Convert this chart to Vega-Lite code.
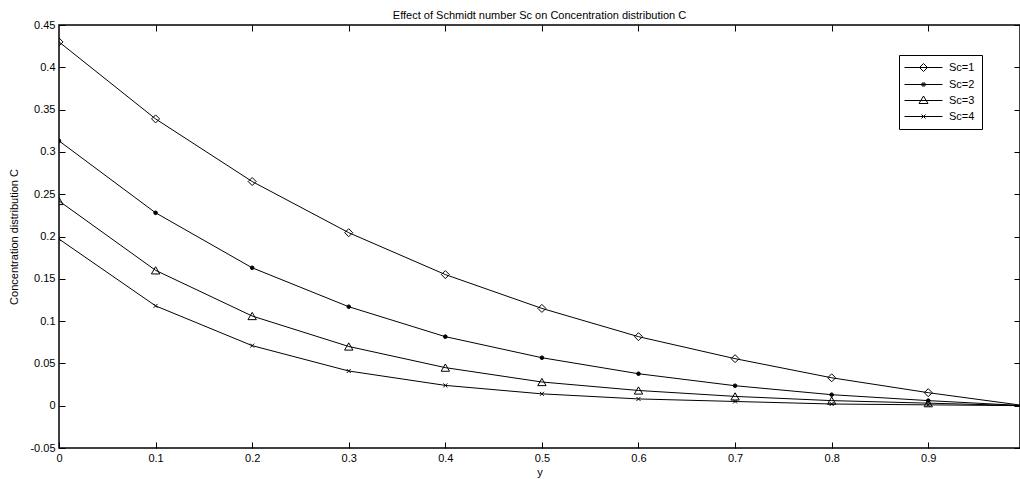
{
  "$schema": "https://vega.github.io/schema/vega-lite/v6.json",
  "width": 961,
  "height": 423,
  "autosize": {"type": "none"},
  "padding": {"left": 59, "top": 25, "right": 0, "bottom": 31},
  "background": "white",
  "config": {
    "font": "Liberation Sans",
    "view": {"stroke": "black", "strokeWidth": 1.5},
    "axis": {
      "grid": false, "domain": false, "tickColor": "black", "tickSize": -6, "tickWidth": 1, "labelFlush": false,
      "labelColor": "black", "labelFontSize": 11, "labelFont": "Liberation Sans", "labelPadding": 10,
      "titleFontSize": 11, "titleFontWeight": "normal", "titleColor": "black", "titleFont": "Liberation Sans"
    }
  },
  "title": {"text": "Effect of Schmidt number Sc on Concentration distribution C", "fontSize": 11, "fontWeight": "normal", "font": "Liberation Sans", "color": "black", "offset": -2},
  "data": {"values": [
    {"series": "Sc=1", "y": 0, "C": 0.43}, {"series": "Sc=1", "y": 0.1, "C": 0.339}, {"series": "Sc=1", "y": 0.2, "C": 0.265}, {"series": "Sc=1", "y": 0.3, "C": 0.2045}, {"series": "Sc=1", "y": 0.4, "C": 0.155}, {"series": "Sc=1", "y": 0.5, "C": 0.115}, {"series": "Sc=1", "y": 0.6, "C": 0.0816}, {"series": "Sc=1", "y": 0.7, "C": 0.0556}, {"series": "Sc=1", "y": 0.8, "C": 0.033}, {"series": "Sc=1", "y": 0.9, "C": 0.0154}, {"series": "Sc=1", "y": 1, "C": 0},
    {"series": "Sc=2", "y": 0, "C": 0.313}, {"series": "Sc=2", "y": 0.1, "C": 0.228}, {"series": "Sc=2", "y": 0.2, "C": 0.163}, {"series": "Sc=2", "y": 0.3, "C": 0.117}, {"series": "Sc=2", "y": 0.4, "C": 0.0816}, {"series": "Sc=2", "y": 0.5, "C": 0.0567}, {"series": "Sc=2", "y": 0.6, "C": 0.0378}, {"series": "Sc=2", "y": 0.7, "C": 0.0236}, {"series": "Sc=2", "y": 0.8, "C": 0.013}, {"series": "Sc=2", "y": 0.9, "C": 0.006}, {"series": "Sc=2", "y": 1, "C": 0},
    {"series": "Sc=3", "y": 0, "C": 0.242}, {"series": "Sc=3", "y": 0.1, "C": 0.16}, {"series": "Sc=3", "y": 0.2, "C": 0.106}, {"series": "Sc=3", "y": 0.3, "C": 0.07}, {"series": "Sc=3", "y": 0.4, "C": 0.045}, {"series": "Sc=3", "y": 0.5, "C": 0.028}, {"series": "Sc=3", "y": 0.6, "C": 0.018}, {"series": "Sc=3", "y": 0.7, "C": 0.011}, {"series": "Sc=3", "y": 0.8, "C": 0.006}, {"series": "Sc=3", "y": 0.9, "C": 0.003}, {"series": "Sc=3", "y": 1, "C": 0},
    {"series": "Sc=4", "y": 0, "C": 0.197}, {"series": "Sc=4", "y": 0.1, "C": 0.118}, {"series": "Sc=4", "y": 0.2, "C": 0.071}, {"series": "Sc=4", "y": 0.3, "C": 0.041}, {"series": "Sc=4", "y": 0.4, "C": 0.024}, {"series": "Sc=4", "y": 0.5, "C": 0.014}, {"series": "Sc=4", "y": 0.6, "C": 0.008}, {"series": "Sc=4", "y": 0.7, "C": 0.005}, {"series": "Sc=4", "y": 0.8, "C": 0.002}, {"series": "Sc=4", "y": 0.9, "C": 0.001}, {"series": "Sc=4", "y": 1, "C": 0}
  ]},
  "layer": [
    {
      "mark": {"type": "line", "color": "black", "strokeWidth": 1, "clip": true},
      "encoding": {
        "x": {"field": "y", "type": "quantitative", "scale": {"domain": [0, 0.995], "nice": false, "zero": false},
          "axis": {"orient": "bottom", "title": "y", "values": [0, 0.1, 0.2, 0.3, 0.4, 0.5, 0.6, 0.7, 0.8, 0.9], "labelExpr": "format(datum.value, '~g')", "titlePadding": 3}},
        "y": {"field": "C", "type": "quantitative", "scale": {"domain": [-0.05, 0.45], "nice": false, "zero": false},
          "axis": {"orient": "left", "title": "Concentration distribution C", "values": [-0.05, 0, 0.05, 0.1, 0.15, 0.2, 0.25, 0.3, 0.35, 0.4, 0.45], "labelExpr": "datum.value < 0 ? '-' + format(-datum.value, '~g') : format(datum.value, '~g')", "titlePadding": 10}},
        "detail": {"field": "series"}
      }
    },
    {
      "mark": {"type": "point", "filled": false, "strokeWidth": 1, "opacity": 1, "clip": true},
      "encoding": {
        "x": {"field": "y", "type": "quantitative",
          "axis": {"orient": "top", "title": null, "labels": false, "values": [0.1, 0.2, 0.3, 0.4, 0.5, 0.6, 0.7, 0.8, 0.9]}},
        "y": {"field": "C", "type": "quantitative",
          "axis": {"orient": "right", "title": null, "labels": false, "values": [-0.05, 0, 0.05, 0.1, 0.15, 0.2, 0.25, 0.3, 0.35, 0.4, 0.45]}},
        "shape": {"field": "series", "type": "nominal",
          "scale": {"domain": ["Sc=1", "Sc=2", "Sc=3", "Sc=4"], "range": ["diamond", "circle", "triangle-up", "M-1,-1L1,1M-1,1L1,-1"]},
          "legend": null},
        "color": {"field": "series", "type": "nominal",
          "scale": {"range": ["black", "black", "black", "black"]},
          "legend": {
            "orient": "none", "legendX": 840, "legendY": 30, "title": null,
            "symbolSize": 100, "symbolStrokeWidth": 1, "symbolFillColor": "transparent",
            "symbolType": {"expr": "datum.value === 'Sc=1' ? 'M-1.4,0H6.2M2.4,-0.8L3.2,0L2.4,0.8L1.6,0Z' : datum.value === 'Sc=2' ? 'M-1.4,0H6.2M2.1,-0.3H2.7V0.3H2.1ZM2.3,-0.1H2.5V0.1H2.3Z' : datum.value === 'Sc=3' ? 'M-1.4,0H6.2M2.4,-0.9L3.3,0.6L1.5,0.6Z' : 'M-1.4,0H6.2M2.0,-0.4L2.8,0.4M2.0,0.4L2.8,-0.4'"},
            "labelOffset": 32, "labelFontSize": 11, "labelFont": "Liberation Sans", "labelColor": "black",
            "padding": 7, "rowPadding": 4, "strokeColor": "black", "fillColor": "white"
          }},
        "size": {"condition": [{"test": "datum.series === 'Sc=1'", "value": 64}, {"test": "datum.series === 'Sc=2'", "value": 13}, {"test": "datum.series === 'Sc=3'", "value": 70}], "value": 16},
        "fill": {"condition": {"test": "datum.series === 'Sc=2'", "value": "black"}, "value": "transparent"}
      }
    }
  ],
  "resolve": {"axis": {"x": "independent", "y": "independent"}}
}
